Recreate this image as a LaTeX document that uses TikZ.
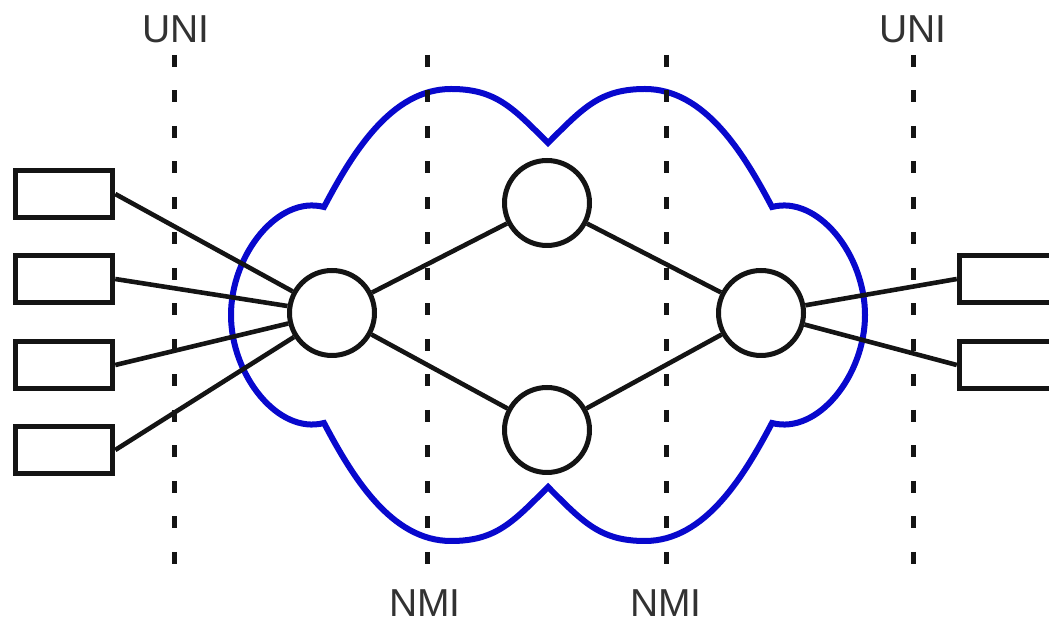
\documentclass[tikz,border=0pt]{standalone}
\usepackage{fontspec}
\setmainfont{Liberation Sans}
\definecolor{lineblack}{RGB}{20,20,20}
\definecolor{cloudblue}{RGB}{8,8,205}
\definecolor{labelgray}{RGB}{50,50,50}
\begin{document}
\begin{tikzpicture}[x=1pt,y=1pt,
  link/.style={draw=lineblack, line width=4.6pt},
  switchnode/.style={circle, draw=lineblack, line width=5pt, fill=white, minimum size=85pt, inner sep=0pt},
  hostbox/.style={rectangle, draw=lineblack, line width=5.5pt, fill=white, minimum width=97pt, minimum height=47pt, inner sep=0pt},
  cloudline/.style={draw=cloudblue, line width=6pt, line join=miter},
  ifline/.style={draw=lineblack, line width=5pt, dash pattern=on 12pt off 23.5pt},
  lbl/.style={text=labelgray, font=\fontsize{39}{39}\selectfont, inner sep=0pt, anchor=base}]
\useasboundingbox (0,0) rectangle (1049,623);
\clip (0,0) rectangle (1049,623);
% cloud
\draw[cloudline] (548,480)
  .. controls (583,515) and (600,534) .. (645,534)
  .. controls (705,534) and (744,469) .. (772,416)
  .. controls (818,428) and (865,368) .. (865,308)
  .. controls (865,248) and (818,188) .. (772,200)
  .. controls (744,147) and (705,82) .. (645,82)
  .. controls (600,82) and (583,101) .. (548,136)
  .. controls (513,101) and (496,82) .. (451,82)
  .. controls (391,82) and (352,147) .. (324,200)
  .. controls (278,188) and (231,248) .. (231,308)
  .. controls (231,368) and (278,428) .. (324,416)
  .. controls (352,469) and (391,534) .. (451,534)
  .. controls (496,534) and (513,515) .. (548,480) -- cycle;
% interface lines
\coordinate (u1t) at (174,568); \coordinate (u1b) at (174,43);
\coordinate (n1t) at (427,568); \coordinate (n1b) at (427,43);
\coordinate (n2t) at (666,568); \coordinate (n2b) at (666,43);
\coordinate (u2t) at (913,568); \coordinate (u2b) at (913,43);
\draw[ifline] (u1t) -- (u1b);
\draw[ifline] (n1t) -- (n1b);
\draw[ifline] (n2t) -- (n2b);
\draw[ifline] (u2t) -- (u2b);
% labels
\node[lbl] (uniL) at (176,580) {UNI};
\node[lbl] (uniR) at (913,580) {UNI};
\node[lbl] (nmiL) at (425,6) {NMI};
\node[lbl] (nmiR) at (666,6) {NMI};
% switches
\node[switchnode] (L) at (332,310) {};
\node[switchnode] (T) at (547,420) {};
\node[switchnode] (B) at (547,193) {};
\node[switchnode] (R) at (761,310) {};
% hosts
\node[hostbox] (h1) at (64,429) {};
\node[hostbox] (h2) at (64,344) {};
\node[hostbox] (h3) at (64,258) {};
\node[hostbox] (h4) at (64,173) {};
\node[hostbox] (g1) at (1008,344) {};
\node[hostbox] (g2) at (1008,258) {};
% links
\draw[link] (h1.east) -- (L);
\draw[link] (h2.east) -- (L);
\draw[link] (h3.east) -- (L);
\draw[link] (h4.east) -- (L);
\draw[link] (L) -- (T);
\draw[link] (L) -- (B);
\draw[link] (T) -- (R);
\draw[link] (B) -- (R);
\draw[link] (R) -- (g1.west);
\draw[link] (R) -- (g2.west);
\end{tikzpicture}
\end{document}
